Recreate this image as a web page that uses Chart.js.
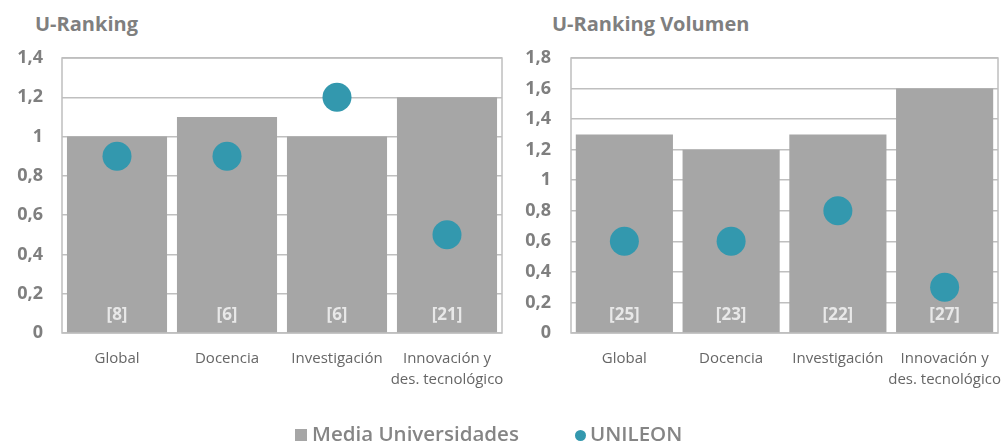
<!DOCTYPE html>
<html>
<head>
<meta charset="utf-8">
<script src="https://cdn.jsdelivr.net/npm/chart.js@4/dist/chart.umd.min.js"></script>
<style>
  body { margin: 0; background: #fff; width: 1005px; height: 441px; overflow: hidden; position: relative; font-family: "Open Sans", sans-serif; }
  .title { position: absolute; top: 10px; font-weight: bold; font-size: 20px; color: #7f7f7f; }
  .box { position: absolute; top: 40px; height: 380px; }
  .legend { position: absolute; top: 419px; font-size: 20.5px; font-weight: 600; color: #858585; white-space: nowrap; line-height: 28px; }
  .sq { display: inline-block; width: 12px; height: 12px; background: #a6a6a6; margin-right: 5px; }
  .dot { display: inline-block; width: 11px; height: 11px; border-radius: 50%; background: #3398ae; margin-right: 4px; }
</style>
</head>
<body>
<div class="title" style="left:35px">U-Ranking</div>
<div class="title" style="left:552px">U-Ranking Volumen</div>
<div class="box" style="left:0;width:505px"><canvas id="left"></canvas></div>
<div class="box" style="left:505px;width:500px"><canvas id="right"></canvas></div>
<div class="legend" style="left:295px"><span class="sq"></span>Media Universidades</div>
<div class="legend" style="left:575px"><span class="dot"></span>UNILEON</div>
<script>
var categories = ["Global", "Docencia", "Investigación", ["Innovación y", "des. tecnológico"]];

// U-Ranking
var mediaLeft = [1.0, 1.1, 1.0, 1.2];
var unileonLeft = [0.9, 0.9, 1.2, 0.5];
var rankLeft = ["[8]", "[6]", "[6]", "[21]"];

// U-Ranking Volumen
var mediaRight = [1.3, 1.2, 1.3, 1.6];
var unileonRight = [0.6, 0.6, 0.8, 0.3];
var rankRight = ["[25]", "[23]", "[22]", "[27]"];

//Drawing the [n] labels inside the bars and the box round the plot
var rankPlugin = {
  id: "ranks",
  beforeDatasetsDraw: function(chart) {
    var a = chart.chartArea, ctx = chart.ctx;
    ctx.save();
    ctx.strokeStyle = "#bfbfbf";
    ctx.lineWidth = 1.5;
    ctx.strokeRect(a.left, a.top, a.right - a.left, a.bottom - a.top);
    ctx.restore();
  },
  afterDatasetDraw: function(chart, args) {
    if (args.index != 0) return;
    var ctx = chart.ctx;
    var ranks = chart.options.plugins.ranks.labels;
    ctx.save();
    ctx.fillStyle = "#e8e8e8";
    ctx.font = "bold 17px 'Open Sans'";
    ctx.textAlign = "center";
    ctx.textBaseline = "middle";
    args.meta.data.forEach(function(bar, i) {
      ctx.fillText(ranks[i], bar.x, chart.chartArea.bottom - 18);
    });
    ctx.restore();
  }
};

function makeChart(id, media, unileon, ranks, yMax, yWidth, yPad, padRight) {
  var ctx = document.getElementById(id).getContext("2d");
  return new Chart(ctx, {
    type: "bar",
    data: {
      labels: categories,
      datasets: [{
        type: "bar",
        label: "Media Universidades",
        data: media,
        backgroundColor: "#a6a6a6",
        barPercentage: 0.91,
        categoryPercentage: 1,
        order: 2
      }, {
        type: "line",
        label: "UNILEON",
        data: unileon,
        showLine: false,
        pointRadius: 14.5,
        pointHoverRadius: 14.5,
        pointBackgroundColor: "#3398ae",
        pointBorderWidth: 0,
        order: 1
      }]
    },
    options: {
      responsive: true,
      maintainAspectRatio: false,
      animation: false,
      layout: { autoPadding: false, padding: { top: 18, right: padRight, left: 0, bottom: 0 } },
      plugins: {
        legend: { display: false },
        tooltip: { enabled: false },
        ranks: { labels: ranks }
      },
      scales: {
        x: {
          grid: { display: false },
          border: { display: false },
          ticks: { color: "#666666", font: { family: "Open Sans", size: 15, lineHeight: 1.35 }, maxRotation: 0, autoSkip: false, padding: 8 },
          afterFit: function(s) { s.height = 87; s.paddingLeft = 0; s.paddingRight = 0; }
        },
        y: {
          min: 0,
          max: yMax,
          ticks: {
            stepSize: 0.2,
            color: "#7f7f7f",
            font: { family: "Open Sans", size: 18, weight: "bold" },
            padding: yPad,
            callback: function(v) { return String(Math.round(v * 10) / 10).replace(".", ","); }
          },
          grid: { color: "#bfbfbf", lineWidth: 1.5, drawTicks: false },
          border: { display: false },
          afterFit: function(s) { s.width = yWidth; s.paddingTop = 0; s.paddingBottom = 0; }
        }
      }
    },
    plugins: [rankPlugin]
  });
}

makeChart("left", mediaLeft, unileonLeft, rankLeft, 1.4, 62, 19, 3);
makeChart("right", mediaRight, unileonRight, rankRight, 1.8, 66, 20, 7);
</script>
</body>
</html>
